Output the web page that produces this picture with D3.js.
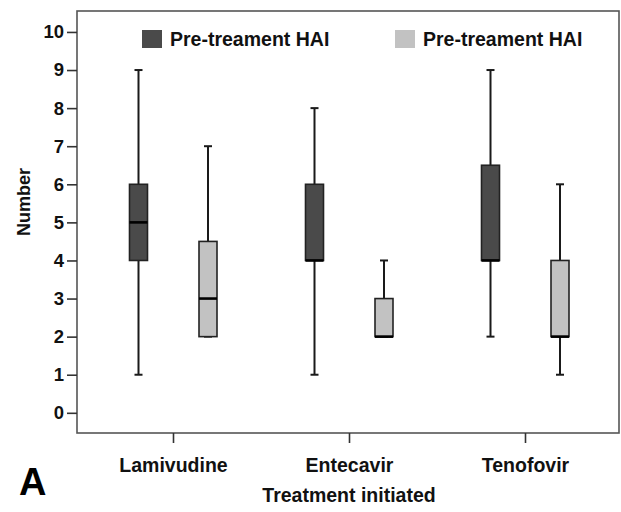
<!DOCTYPE html>
<html>
<head>
<meta charset="utf-8">
<script src="https://cdn.jsdelivr.net/npm/d3@7"></script>
<style>
  body { margin: 0; background: #fff; }
  svg { display: block; font-family: "Liberation Sans", Arial, sans-serif; font-weight: bold; }
</style>
</head>
<body>
<svg width="621" height="512"></svg>
<script>
// data: [min, q1, median, q3, max]
const treatments = ['Lamivudine', 'Entecavir', 'Tenofovir']
const series_names = ['Pre-treament HAI', 'Pre-treament HAI']
const series_colors = ['#4a4a4a', '#c2c2c2']
const dark_stats = [[1, 4, 5, 6, 9], [1, 4, 4, 6, 8], [2, 4, 4, 6.5, 9]]
const light_stats = [[2, 2, 3, 4.5, 7], [2, 2, 2, 3, 4], [1, 2, 2, 4, 6]]
const y_ticks = [0, 1, 2, 3, 4, 5, 6, 7, 8, 9, 10]

const svg = d3.select('svg')

const margin = {top: 11, right: 2, bottom: 79, left: 77}
const width = 621, height = 512
const inner_width = width - margin.left - margin.right
const inner_height = height - margin.top - margin.bottom

const y_scale = d3.scaleLinear()
    .domain([-0.53, 10.55])
    .range([inner_height, 0])

const x_scale = d3.scalePoint()
    .domain(treatments)
    .range([96, 448])

const offset = d3.scalePoint()
    .domain([0, 1])
    .range([-34.5, 35])

const g = svg.append('g')
    .attr('transform', `translate(${margin.left},${margin.top})`)

// frame
g.append('rect')
    .attr('width', inner_width)
    .attr('height', inner_height)
    .attr('fill', 'none')
    .attr('stroke', '#555')
    .attr('stroke-width', 1.6)

// y axis
const y_axis = g.append('g')
    .call(d3.axisLeft(y_scale).tickValues(y_ticks).tickSize(10).tickPadding(3).tickFormat(d3.format('d')))
y_axis.select('.domain').remove()
y_axis.selectAll('line').attr('stroke', '#333').attr('stroke-width', 1.6)
y_axis.selectAll('text')
    .attr('fill', '#111')
    .style('font-size', '18.5px')
    .style('font-weight', 'bold')
    .style('font-family', '"Liberation Sans", Arial, sans-serif')

// x axis
const x_axis = g.append('g')
    .attr('transform', `translate(0,${inner_height})`)
    .call(d3.axisBottom(x_scale).tickSize(10).tickPadding(15))
x_axis.select('.domain').remove()
x_axis.selectAll('line').attr('stroke', '#333').attr('stroke-width', 1.6)
x_axis.selectAll('text')
    .attr('fill', '#111')
    .style('font-size', '19.5px')
    .style('font-weight', 'bold')
    .style('font-family', '"Liberation Sans", Arial, sans-serif')

// boxes
const box_w = 18
const cap_w = 8
const all_stats = [dark_stats, light_stats]

all_stats.forEach((stats, si) => {
    const grp = g.append('g').selectAll('g').data(stats)
        .enter().append('g')
        .attr('transform', (d, i) => `translate(${x_scale(treatments[i]) + offset(si)},0)`)

    // whiskers
    grp.append('line')
        .attr('y1', d => y_scale(d[0]))
        .attr('y2', d => y_scale(d[4]))
        .attr('stroke', '#1a1a1a')
        .attr('stroke-width', 2)
    grp.selectAll('.cap').data(d => [d[0], d[4]])
        .enter().append('line')
        .attr('class', 'cap')
        .attr('x1', -cap_w / 2)
        .attr('x2', cap_w / 2)
        .attr('y1', d => y_scale(d))
        .attr('y2', d => y_scale(d))
        .attr('stroke', '#1a1a1a')
        .attr('stroke-width', 2)

    grp.append('rect')
        .attr('x', -box_w / 2)
        .attr('width', box_w)
        .attr('y', d => y_scale(d[3]))
        .attr('height', d => y_scale(d[1]) - y_scale(d[3]))
        .attr('fill', series_colors[si])
        .attr('stroke', '#222')
        .attr('stroke-width', 1.6)

    grp.append('line')
        .attr('x1', -box_w / 2)
        .attr('x2', box_w / 2)
        .attr('y1', d => y_scale(d[2]))
        .attr('y2', d => y_scale(d[2]))
        .attr('stroke', '#000')
        .attr('stroke-width', 2.6)
})

// legend
const legend_x = [142, 395]
series_names.forEach((name, i) => {
    const lg = svg.append('g').attr('transform', `translate(${legend_x[i]},30)`)
    lg.append('rect')
        .attr('width', 20)
        .attr('height', 18)
        .attr('fill', series_colors[i])
    lg.append('text')
        .attr('x', 28)
        .attr('y', 16)
        .attr('fill', '#111')
        .style('font-size', '19.5px')
        .text(name)
})

// axis titles
svg.append('text')
    .attr('transform', `translate(30,${margin.top + 191}) rotate(-90)`)
    .attr('text-anchor', 'middle')
    .attr('fill', '#111')
    .style('font-size', '18px')
    .text('Number')

svg.append('text')
    .attr('x', margin.left + x_scale('Entecavir'))
    .attr('y', 502)
    .attr('text-anchor', 'middle')
    .attr('fill', '#111')
    .style('font-size', '19.5px')
    .text('Treatment initiated')

svg.append('text')
    .attr('x', 19)
    .attr('y', 495)
    .attr('fill', '#000')
    .style('font-size', '38px')
    .text('A')
</script>
</body>
</html>
